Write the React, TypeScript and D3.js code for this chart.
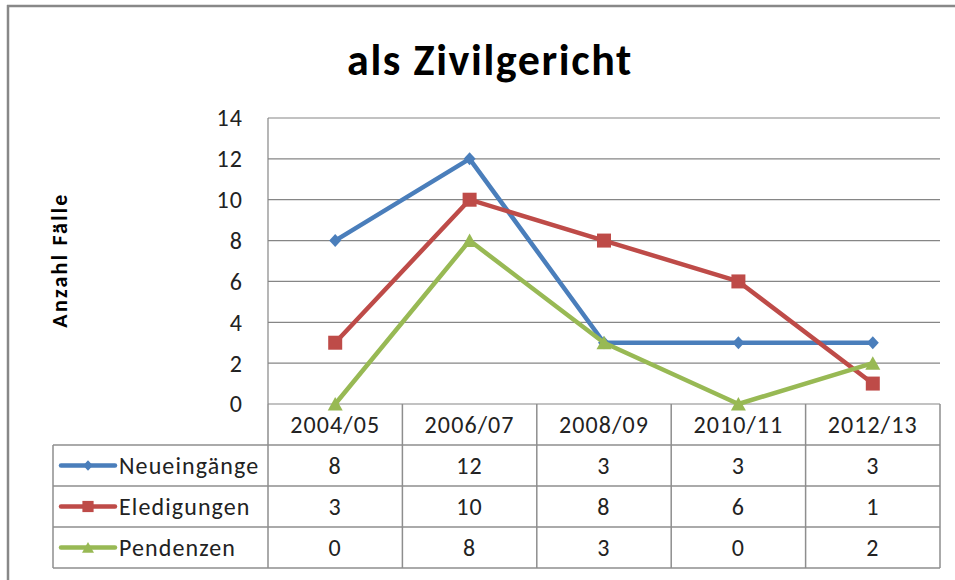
import React from 'react';
import * as d3 from 'd3';

// chart data
const periods = ['2004/05', '2006/07', '2008/09', '2010/11', '2012/13'];
const neueingaenge = [8, 12, 3, 3, 3];
const eledigungen = [3, 10, 8, 6, 1];
const pendenzen = [0, 8, 3, 0, 2];
const yTicks = [0, 2, 4, 6, 8, 10, 12, 14];
const seriesNames = ['Neueingänge', 'Eledigungen', 'Pendenzen'];

const FONT = 'Carlito, Calibri, Lato, sans-serif';

const series = [
  { name: seriesNames[0], values: neueingaenge, color: '#4A7EBB', marker: 'diamond' },
  { name: seriesNames[1], values: eledigungen, color: '#BE4B48', marker: 'square' },
  { name: seriesNames[2], values: pendenzen, color: '#98B954', marker: 'triangle' },
];

// marker shapes centred on 0,0
const markerPath = (type: string) => {
  if (type === 'diamond') return 'M0,-6.5L6,0L0,6.5L-6,0Z';
  if (type === 'square') return 'M-7,-7H7V7H-7Z';
  return 'M0,-7L7.5,6.5H-7.5Z';
};

const App = () => {
  const width = 955;
  const height = 580;
  const plot = { left: 268, right: 940, top: 118, bottom: 404 };
  const tableLeft = 53;

  const x = d3.scaleBand().domain(periods).range([plot.left, plot.right]);
  const y = d3.scaleLinear().domain([0, 14]).range([plot.bottom, plot.top]);
  const cx = (p: string) => (x(p) as number) + x.bandwidth() / 2;

  const rows = d3
    .scaleBand()
    .domain(['header', ...seriesNames])
    .range([plot.bottom, 568]);

  const line = d3
    .line<number>()
    .x((_, i) => cx(periods[i]))
    .y((d) => y(d));

  const gridColor = '#868686';
  const tableColor = '#8E8E8E';
  // Calibri in the original is a bit wider than Lato, hence the letter spacing
  const textStyle = { fontFamily: FONT, fontSize: 24, letterSpacing: 1.1, fill: '#222' };

  return (
    <svg
      width={width}
      height={height}
      style={{ position: 'absolute', left: 0, top: 0, background: '#fff' }}
    >
      {/* outer frame */}
      <line x1={7} x2={955} y1={6} y2={6} stroke="#888" strokeWidth={2.5} />
      <line x1={8} x2={8} y1={5} y2={580} stroke="#888" strokeWidth={2.5} />

      {/* title */}
      <text
        x={490}
        y={75}
        textAnchor="middle"
        fontFamily={FONT}
        fontWeight="bold"
        fontSize={44}
        letterSpacing={1.6}
      >
        als Zivilgericht
      </text>

      {/* y axis title */}
      <text
        transform="translate(67,260) rotate(-90)"
        textAnchor="middle"
        fontFamily={FONT}
        fontWeight="bold"
        fontSize={22}
        letterSpacing={2.2}
      >
        Anzahl Fälle
      </text>

      {/* grid lines */}
      {yTicks.map((t) => (
        <line
          key={t}
          x1={plot.left}
          x2={plot.right}
          y1={y(t)}
          y2={y(t)}
          stroke={gridColor}
          strokeWidth={1.2}
        />
      ))}
      <line
        x1={plot.left}
        x2={plot.left}
        y1={plot.top}
        y2={plot.bottom}
        stroke={gridColor}
        strokeWidth={1.2}
      />
      {yTicks.map((t) => (
        <text key={t} x={243} y={y(t)} dy="0.35em" textAnchor="end" style={textStyle}>
          {t}
        </text>
      ))}

      {/* data table */}
      <g stroke={tableColor} strokeWidth={1.5}>
        {seriesNames.map((n) => (
          <line
            key={n}
            x1={tableLeft}
            x2={plot.right}
            y1={rows(n)}
            y2={rows(n)}
          />
        ))}
        <line x1={tableLeft} x2={plot.right} y1={568} y2={568} />
        <line
          x1={tableLeft}
          x2={tableLeft}
          y1={rows(seriesNames[0])}
          y2={568}
        />
        {periods.map((p) => (
          <line key={p} x1={x(p)} x2={x(p)} y1={plot.bottom} y2={568} />
        ))}
        <line x1={plot.right} x2={plot.right} y1={plot.bottom} y2={568} />
      </g>
      {periods.map((p) => (
        <text
          key={p}
          x={cx(p)}
          y={(rows('header') as number) + rows.bandwidth() / 2}
          dy="0.35em"
          textAnchor="middle"
          style={textStyle}
        >
          {p}
        </text>
      ))}
      {series.map((s) => {
        const ry = (rows(s.name) as number) + rows.bandwidth() / 2;
        return (
          <g key={s.name}>
            <line
              x1={61}
              x2={115}
              y1={ry}
              y2={ry}
              stroke={s.color}
              strokeWidth={4.5}
              strokeLinecap="round"
            />
            <path
              d={markerPath(s.marker)}
              transform={`translate(88,${ry}) scale(0.8)`}
              fill={s.color}
            />
            <text x={119} y={ry} dy="0.35em" style={textStyle}>
              {s.name}
            </text>
            {s.values.map((v, i) => (
              <text
                key={i}
                x={cx(periods[i])}
                y={ry}
                dy="0.35em"
                textAnchor="middle"
                style={textStyle}
              >
                {v}
              </text>
            ))}
          </g>
        );
      })}

      {/* series lines */}
      {series.map((s) => (
        <g key={s.name}>
          <path
            d={line(s.values) as string}
            fill="none"
            stroke={s.color}
            strokeWidth={4.5}
            strokeLinejoin="round"
          />
          {s.values.map((v, i) => (
            <path
              key={i}
              d={markerPath(s.marker)}
              transform={`translate(${cx(periods[i])},${y(v)})`}
              fill={s.color}
            />
          ))}
        </g>
      ))}
    </svg>
  );
};

export default App;
